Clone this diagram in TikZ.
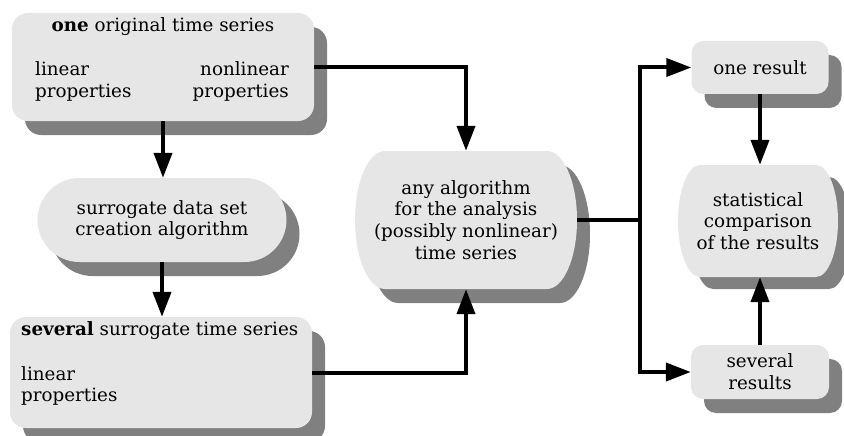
\documentclass[tikz,border=0pt]{standalone}
\usepackage{fontspec}
\setmainfont{DejaVu Serif}
\usetikzlibrary{shapes.misc,shadows,arrows.meta}
\definecolor{boxfill}{HTML}{E6E6E6}
\definecolor{shadowgray}{HTML}{808080}
\begin{document}
\begin{tikzpicture}[x=1pt,y=-1pt,
  font=\fontsize{18.3}{21.7}\selectfont,
  shad/.style={drop shadow={shadow xshift=13pt, shadow yshift=-14pt, opacity=1, fill=shadowgray}},
  rbox/.style={rectangle, rounded corners=16pt, fill=boxfill, shad, inner sep=0pt, align=center},
  stadium/.style={rounded rectangle, fill=boxfill, shad, inner sep=0pt, align=center},
  textbox/.style={rectangle, inner sep=0pt, align=center},
  conn/.style={line width=4pt, -{Triangle[length=25pt,width=18pt]}},
  plain/.style={line width=4pt},
  txt/.style={inner sep=0pt}
]
\useasboundingbox (0,0) rectangle (844,436);

% barrel shapes (shadow, then face)
\fill[shadowgray, shift={(13,14)}] (547,151) arc[start angle=90,end angle=-90,x radius=30pt,y radius=69pt] -- (385,289) arc[start angle=270,end angle=90,x radius=30pt,y radius=69pt] -- cycle;
\fill[boxfill] (547,151) arc[start angle=90,end angle=-90,x radius=30pt,y radius=69pt] -- (385,289) arc[start angle=270,end angle=90,x radius=30pt,y radius=69pt] -- cycle;
\fill[shadowgray, shift={(13,12)}] (816,165) arc[start angle=90,end angle=-90,x radius=22pt,y radius=56pt] -- (700,277) arc[start angle=270,end angle=90,x radius=22pt,y radius=56pt] -- cycle;
\fill[boxfill] (816,165) arc[start angle=90,end angle=-90,x radius=22pt,y radius=56pt] -- (700,277) arc[start angle=270,end angle=90,x radius=22pt,y radius=56pt] -- cycle;

% boxes
\node[rbox, minimum width=302pt, minimum height=108pt] (b1) at (163,67) {};
\node[stadium, minimum width=249pt, minimum height=84pt] (b2) at (162,220) {surrogate data set\\creation algorithm};
\node[rbox, minimum width=302pt, minimum height=111pt] (b3) at (161,372.5) {};
\node[textbox, minimum width=222pt, minimum height=138pt] (b4) at (466,220) {any algorithm\\for the analysis\\(possibly nonlinear)\\time series};
\node[rbox, rounded corners=12pt, minimum width=137pt, minimum height=53pt] (b5) at (760,67.5) {one result};
\node[textbox, minimum width=160pt, minimum height=112pt] (b6) at (758,221) {statistical\\comparison\\of the results};
\node[rbox, rounded corners=12pt, minimum width=138pt, minimum height=54pt] (b7) at (760,372) {several\\results};

% texts inside the wide boxes
\node[txt, anchor=base] (t1) at (163,32) {\textbf{one} original time series};
\node[txt, anchor=base west] (t1l1) at (35,76) {linear};
\node[txt, anchor=base west] (t1l2) at (35,97.5) {properties};
\node[txt, anchor=base east] (t1r1) at (289,76) {nonlinear};
\node[txt, anchor=base east] (t1r2) at (289,97.5) {properties};
\node[txt, anchor=base west] (t3) at (21,335) {\textbf{several} surrogate time series};
\node[txt, anchor=base west] (t3l1) at (21,380) {linear};
\node[txt, anchor=base west] (t3l2) at (21,401.5) {properties};

% connectors
\draw[conn] (b1.east) -| (b4.north);
\draw[conn] (b1.south) -- (b1.south |- b2.north);
\draw[conn] (b2.south) -- (b2.south |- b3.north);
\draw[conn] (b3.east) -| (b4.south);
\coordinate (split) at (640,220);
\draw[plain] (b4.east) -- (split);
\draw[conn] (split) |- (b5.west);
\draw[conn] (split) |- (b7.west);
\draw[conn] (b5.south) -- (b5.south |- b6.north);
\draw[conn] (b7.north) -- (b7.north |- b6.south);
\end{tikzpicture}
\end{document}
